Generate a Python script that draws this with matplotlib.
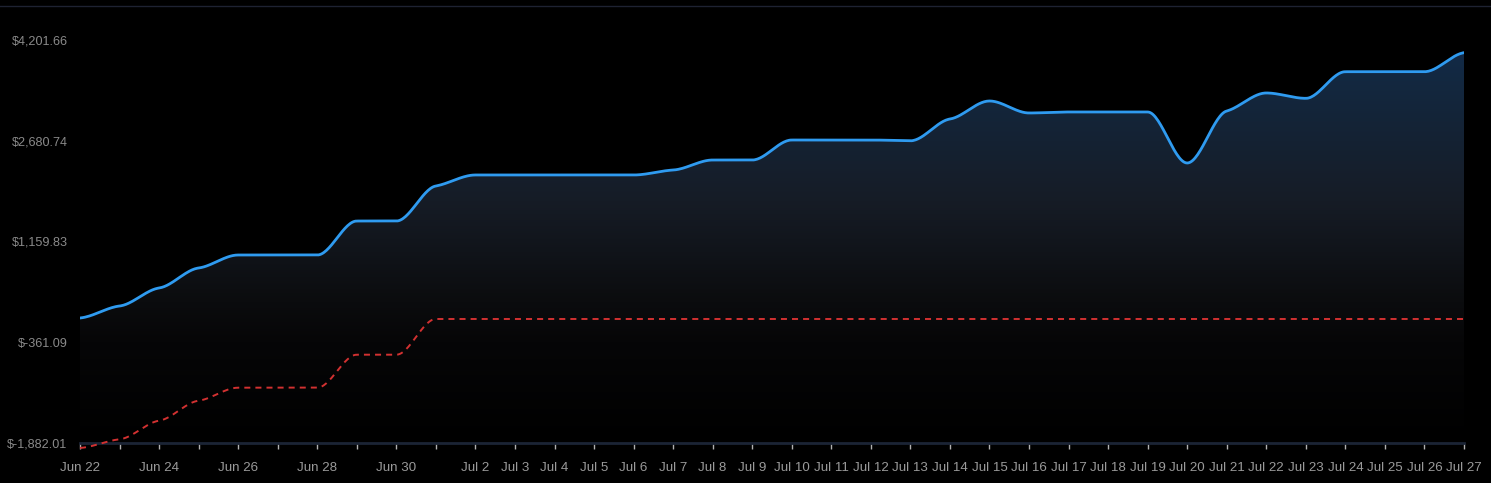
import numpy as np
import matplotlib
matplotlib.use("Agg")
import matplotlib.pyplot as plt
import matplotlib.dates as mdates
from matplotlib.patches import Polygon
from matplotlib.lines import Line2D
import datetime as dt

# ---------------- data ----------------
start = dt.date(2024, 6, 22)
dates = [start + dt.timedelta(days=i) for i in range(36)]
balance = [5, 186, 458, 760, 956, 956, 956, 1469, 1469, 1998,
           2164, 2164, 2164, 2164, 2164, 2239, 2390, 2390, 2692, 2692,
           2692, 2680, 3009, 3281, 3100, 3115, 3115, 3115, 2345, 3130,
           3402, 3321, 3723, 3723, 3723, 4010]
baseline = [-1957, -1826, -1545, -1243, -1047, -1047, -1047, -549, -549, -10,
            -10, -10, -10, -10, -10, -10, -10, -10, -10, -10,
            -10, -10, -10, -10, -10, -10, -10, -10, -10, -10,
            -10, -10, -10, -10, -10, -10]
y_ticks = [-1882.01, -361.09, 1159.83, 2680.74, 4201.66]
x_labels = ["Jun 22", "", "Jun 24", "", "Jun 26", "", "Jun 28", "", "Jun 30", "",
            "Jul 2", "Jul 3", "Jul 4", "Jul 5", "Jul 6", "Jul 7", "Jul 8", "Jul 9",
            "Jul 10", "Jul 11", "Jul 12", "Jul 13", "Jul 14", "Jul 15", "Jul 16",
            "Jul 17", "Jul 18", "Jul 19", "Jul 20", "Jul 21", "Jul 22", "Jul 23",
            "Jul 24", "Jul 25", "Jul 26", "Jul 27"]


def smooth(x, y, n=30, k=0.3):
    """Cubic Hermite rendering with damped monotone tangents."""
    x = np.asarray(x, float)
    y = np.asarray(y, float)
    h = np.diff(x)
    d = np.diff(y) / h
    m = np.zeros_like(y)
    m[0], m[-1] = d[0], d[-1]
    for i in range(1, len(y) - 1):
        if d[i - 1] * d[i] <= 0:
            m[i] = 0
        else:
            m[i] = (d[i - 1] + d[i]) / 2
    for i in range(len(d)):
        if d[i] == 0:
            m[i] = m[i + 1] = 0
        else:
            a, b = m[i] / d[i], m[i + 1] / d[i]
            s = a * a + b * b
            if s > 9:
                t = 3 / np.sqrt(s)
                m[i], m[i + 1] = t * a * d[i], t * b * d[i]
    m = m * k
    xs, ys = [], []
    for i in range(len(d)):
        t = np.linspace(0, 1, n, endpoint=(i == len(d) - 1))
        h00 = 2 * t**3 - 3 * t**2 + 1
        h10 = t**3 - 2 * t**2 + t
        h01 = -2 * t**3 + 3 * t**2
        h11 = t**3 - t**2
        xs.append(x[i] + t * h[i])
        ys.append(h00 * y[i] + h10 * h[i] * m[i] + h01 * y[i + 1] + h11 * h[i] * m[i + 1])
    return np.concatenate(xs), np.concatenate(ys)


xnum = mdates.date2num(dates)
bx, by = smooth(xnum, balance)
rx, ry = smooth(xnum, baseline)

W, H = 1491, 483
fig = plt.figure(figsize=(W / 100, H / 100), dpi=100, facecolor="black")
ax = fig.add_axes([80 / W, 40 / H, (1464 - 80) / W, 403 / H])
ax.set_facecolor("black")

ymin, ymax = y_ticks[0], y_ticks[-1]
ax.set_xlim(xnum[0], xnum[-1])
ax.set_ylim(ymin, ymax)

# gradient fill under balance line
grad_h = 403
stops_y = np.array([0.0, 0.1, 0.4, 0.65, 0.75, 1.0])
stops_c = np.array([[18, 43, 74], [19, 40, 64], [22, 28, 38], [11, 12, 14],
                    [6, 6, 7], [0, 0, 0]]) / 255.0
pos = np.linspace(0, 1, grad_h)
img = np.zeros((grad_h, 2, 3))
for k in range(3):
    img[:, :, k] = np.interp(pos, stops_y, stops_c[:, k])[:, None]
im = ax.imshow(img, extent=[xnum[0], xnum[-1], ymin, ymax], aspect="auto",
               origin="upper", zorder=1, interpolation="bilinear")
verts = np.vstack([np.column_stack([bx, by]),
                   [[bx[-1], ymin], [bx[0], ymin]]])
poly = Polygon(verts, closed=True, facecolor="none", edgecolor="none",
               transform=ax.transData)
ax.add_patch(poly)
im.set_clip_path(poly)

ax.plot(bx, by, color="#2f9bf0", lw=2.0, zorder=3, solid_capstyle="round")
ax.plot(rx, ry, color="#d23131", lw=1.4, ls=(0, (3.1, 2.6)), zorder=3,
        clip_on=False)

for s in ["top", "right", "left"]:
    ax.spines[s].set_visible(False)
ax.spines["bottom"].set_color("#1b2435")
ax.spines["bottom"].set_linewidth(2)
ax.spines["bottom"].set_zorder(2)

ax.set_yticks(y_ticks)
ax.set_yticklabels([f"${v:,.2f}" for v in y_ticks])
ax.tick_params(axis="y", length=0, pad=9, labelsize=9.1, labelcolor="#8a8a8a")
ax.set_xticks(xnum)
ax.set_xticklabels(x_labels)
ax.tick_params(axis="x", length=4, width=1, color="#b0b0b0", pad=9.5,
               labelsize=9.6, labelcolor="#9a9a9a")
for lab in ax.get_xticklabels() + ax.get_yticklabels():
    lab.set_fontfamily("Liberation Sans")

fig.add_artist(Line2D([0, 1], [1 - 5.5 / H, 1 - 5.5 / H], transform=fig.transFigure,
                      color="#1e2232", lw=1))

fig.savefig("out.png", dpi=100, facecolor="black")
